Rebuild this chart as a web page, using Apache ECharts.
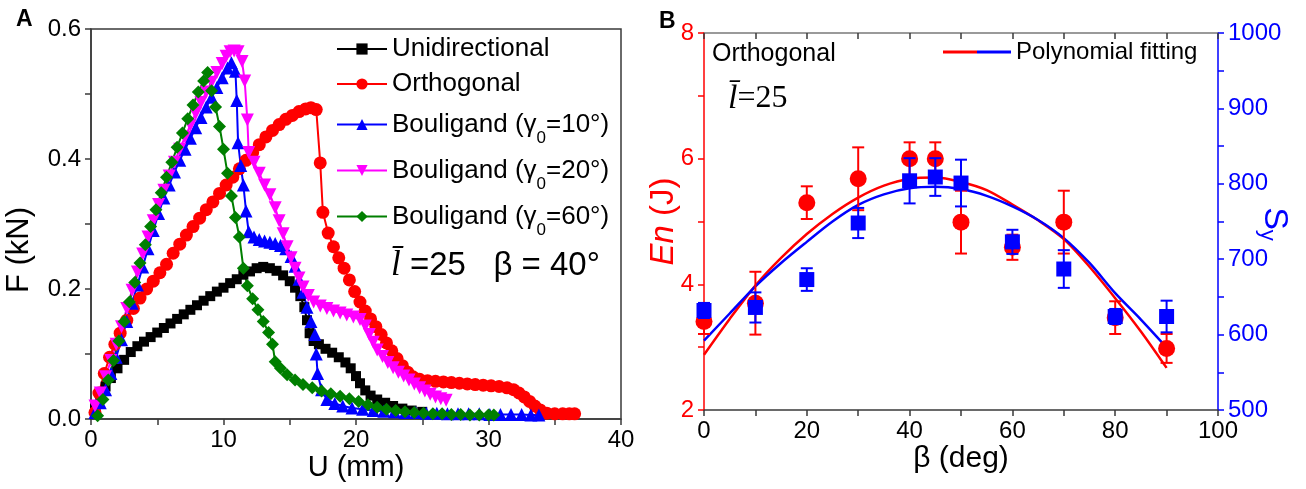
<!DOCTYPE html>
<html>
<head>
<meta charset="utf-8">
<style>
  html, body { margin: 0; padding: 0; background: #fff; }
  #chart { width: 1306px; height: 489px; }
</style>
<script src="https://cdn.jsdelivr.net/npm/echarts@6/dist/echarts.min.js"></script>
</head>
<body>
<div id="chart"></div>
<script>
// ---------- panel A : load F (kN) vs displacement U (mm), pairs [U, F] ----------
const uniData = [[0.3,0.015],[0.7,0.035],[1.1,0.05],[1.5,0.063],[2.0,0.078],[2.5,0.091],[3.0,0.103],[3.5,0.112],[4.0,0.119],[4.5,0.126],[5.0,0.133],[5.5,0.14],[6.0,0.147],[6.5,0.154],[7.0,0.161],[7.5,0.168],[8.0,0.175],[8.5,0.182],[9.0,0.189],[9.5,0.196],[10.0,0.202],[10.5,0.209],[11.0,0.215],[11.5,0.222],[12.0,0.227],[12.5,0.232],[13.0,0.234],[13.5,0.232],[14.0,0.228],[14.5,0.221],[15.0,0.212],[15.4,0.202],[15.8,0.189],[16.1,0.172],[16.3,0.152],[16.5,0.132],[16.8,0.12],[17.2,0.115],[17.7,0.108],[18.2,0.102],[18.7,0.095],[19.2,0.087],[19.6,0.078],[20.0,0.066],[20.3,0.055],[20.7,0.044],[21.1,0.036],[21.6,0.03],[22.2,0.025],[22.8,0.02],[23.5,0.016],[24.2,0.013],[25.0,0.011]];

const orthoData = [[0.3,0.01],[0.6,0.04],[1.0,0.07],[1.4,0.095],[1.8,0.115],[2.2,0.132],[2.7,0.152],[3.2,0.17],[3.7,0.186],[4.2,0.2],[4.7,0.212],[5.2,0.225],[5.7,0.238],[6.2,0.255],[6.7,0.269],[7.2,0.283],[7.7,0.296],[8.2,0.309],[8.7,0.322],[9.2,0.334],[9.7,0.347],[10.2,0.36],[10.7,0.372],[11.2,0.385],[11.7,0.398],[12.2,0.41],[12.7,0.422],[13.2,0.434],[13.7,0.444],[14.2,0.453],[14.7,0.461],[15.2,0.467],[15.7,0.473],[16.2,0.477],[16.6,0.479],[17.0,0.476],[17.3,0.394],[17.5,0.318],[17.9,0.286],[18.3,0.265],[18.7,0.248],[19.1,0.232],[19.5,0.214],[19.9,0.196],[20.3,0.18],[20.7,0.166],[21.1,0.154],[21.5,0.142],[21.9,0.13],[22.3,0.117],[22.7,0.105],[23.1,0.093],[23.5,0.082],[23.9,0.072],[24.3,0.065],[24.8,0.061],[25.4,0.059],[26.0,0.058],[26.6,0.057],[27.2,0.056],[27.8,0.055],[28.4,0.054],[29.0,0.053],[29.6,0.052],[30.2,0.051],[30.8,0.05],[31.4,0.048],[31.9,0.045],[32.3,0.04],[32.7,0.034],[33.1,0.027],[33.5,0.02],[33.9,0.014],[34.4,0.009],[35.0,0.008],[35.6,0.008],[36.1,0.008],[36.5,0.008]];

const boul10Data = [[0.3,0.01],[0.7,0.025],[1.1,0.045],[1.5,0.07],[1.9,0.095],[2.3,0.122],[2.7,0.15],[3.1,0.178],[3.5,0.206],[3.9,0.234],[4.3,0.262],[4.7,0.29],[5.1,0.316],[5.5,0.34],[5.9,0.36],[6.3,0.38],[6.7,0.398],[7.1,0.415],[7.5,0.432],[7.9,0.448],[8.3,0.464],[8.7,0.48],[9.1,0.495],[9.5,0.51],[9.9,0.525],[10.3,0.54],[10.6,0.548],[10.9,0.535],[11.0,0.49],[11.1,0.425],[11.3,0.39],[11.5,0.36],[11.7,0.32],[11.9,0.288],[12.3,0.28],[12.7,0.276],[13.1,0.274],[13.5,0.272],[13.9,0.27],[14.3,0.267],[14.7,0.262],[15.1,0.25],[15.4,0.235],[15.7,0.215],[16.0,0.195],[16.3,0.172],[16.6,0.15],[16.9,0.13],[17.0,0.1],[17.1,0.07],[17.4,0.045],[17.8,0.03],[18.4,0.024],[19.0,0.02],[19.7,0.017],[20.5,0.015],[21.3,0.013],[22.1,0.012],[22.9,0.011],[23.7,0.01],[24.5,0.01],[25.3,0.009],[26.1,0.009],[26.9,0.008],[27.7,0.008],[28.5,0.008],[29.3,0.008],[30.1,0.007],[30.9,0.007],[31.7,0.007],[32.5,0.007],[33.2,0.006],[33.8,0.006]];

const boul20Data = [[0.3,0.02],[0.7,0.04],[1.1,0.065],[1.5,0.09],[1.9,0.115],[2.3,0.142],[2.7,0.17],[3.1,0.198],[3.5,0.226],[3.9,0.254],[4.3,0.28],[4.7,0.305],[5.1,0.33],[5.5,0.352],[5.9,0.374],[6.3,0.395],[6.7,0.415],[7.1,0.434],[7.5,0.452],[7.9,0.47],[8.3,0.487],[8.7,0.503],[9.1,0.518],[9.5,0.533],[9.9,0.547],[10.2,0.558],[10.5,0.565],[10.8,0.566],[11.1,0.565],[11.4,0.55],[11.6,0.52],[11.8,0.46],[11.9,0.41],[12.3,0.395],[12.7,0.378],[13.1,0.36],[13.5,0.345],[13.9,0.325],[14.2,0.305],[14.5,0.285],[14.8,0.265],[15.1,0.248],[15.4,0.232],[15.7,0.217],[16.0,0.203],[16.4,0.19],[16.8,0.18],[17.3,0.174],[17.8,0.17],[18.3,0.166],[18.8,0.163],[19.3,0.16],[19.8,0.157],[20.3,0.153],[20.7,0.143],[21.0,0.13],[21.3,0.118],[21.6,0.106],[22.0,0.096],[22.4,0.087],[22.8,0.079],[23.2,0.072],[23.6,0.066],[24.0,0.06],[24.4,0.054],[24.8,0.048],[25.2,0.043],[25.6,0.038],[26.0,0.034],[26.4,0.031],[26.8,0.029]];

const boul60Data = [[0.5,0.005],[0.9,0.03],[1.3,0.06],[1.7,0.09],[2.1,0.12],[2.5,0.15],[2.9,0.18],[3.3,0.21],[3.7,0.24],[4.1,0.268],[4.5,0.296],[4.9,0.322],[5.3,0.348],[5.7,0.372],[6.1,0.395],[6.5,0.418],[6.9,0.44],[7.3,0.462],[7.7,0.483],[8.1,0.503],[8.5,0.52],[8.8,0.533],[9.1,0.505],[9.4,0.48],[9.7,0.45],[10.0,0.415],[10.3,0.378],[10.6,0.343],[10.9,0.31],[11.2,0.28],[11.5,0.232],[11.8,0.205],[12.2,0.185],[12.6,0.168],[13.0,0.15],[13.4,0.133],[13.7,0.115],[13.9,0.088],[14.3,0.078],[14.8,0.068],[15.4,0.06],[16.0,0.053],[16.7,0.048],[17.4,0.043],[18.1,0.039],[18.8,0.035],[19.5,0.031],[20.2,0.027],[20.9,0.022],[21.6,0.018],[22.3,0.015],[23.0,0.013],[23.7,0.011],[24.4,0.01],[25.1,0.009],[25.8,0.008],[26.5,0.008],[27.2,0.007],[27.9,0.007],[28.6,0.006],[29.3,0.006],[30.0,0.006],[30.4,0.006]];

const uTicks = [0, 10, 20, 30, 40];
const fTicks = [0.0, 0.2, 0.4, 0.6];

// ---------- panel B : En and Sy vs beta ----------
const betaDeg = [0, 10, 20, 30, 40, 45, 50, 60, 70, 80, 90];
const enVals  = [3.41, 3.70, 5.30, 5.68, 6.00, 6.00, 4.99, 4.59, 4.99, 3.47, 2.98];
const enErr   = [0.20, 0.50, 0.26, 0.50, 0.26, 0.26, 0.50, 0.20, 0.50, 0.26, 0.23];
const syVals  = [632, 636, 673, 748, 804, 809, 801, 723, 687, 624, 624];
const syErr   = [10, 20, 15, 20, 30, 25, 31, 16, 25, 10, 21];

// polynomial fitting curves, read every 5 deg
const fitBeta = [0, 5, 10, 15, 20, 25, 30, 35, 40, 45, 50, 55, 60, 65, 70, 75, 80, 85, 90];
const fitEn   = [2.88, 3.45, 3.98, 4.42, 4.80, 5.12, 5.38, 5.57, 5.68, 5.70, 5.63, 5.50, 5.27, 5.02, 4.72, 4.28, 3.78, 3.25, 2.67];
const fitSy   = [592, 628, 664, 695, 723, 750, 772, 786, 794, 796, 793, 784, 770, 752, 728, 695, 655, 620, 583];

const FONT = "'Liberation Sans', Arial, sans-serif";
const SERIF = "'Liberation Serif', 'Times New Roman', serif";
const RED = '#ff0000';
const BLUE = '#0000ff';
const AXIS = '#3a3a3a';

const legendLabelsA = {
  'Unidirectional': 'Unidirectional',
  'Orthogonal': 'Orthogonal',
  'B10': 'Bouligand (γ{s|0}=10°)',
  'B20': 'Bouligand (γ{s|0}=20°)',
  'B60': 'Bouligand (γ{s|0}=60°)'
};

function curve(name, data, color, symbol, size) {
  return {
    name: name,
    type: 'line',
    xAxisIndex: 0,
    yAxisIndex: 0,
    data: data,
    symbol: symbol,
    symbolSize: size,
    showAllSymbol: true,
    color: color,
    lineStyle: { color: color, width: 2 },
    itemStyle: { color: color },
    emphasis: { disabled: true }
  };
}

// vertical error bar with caps, positioned through the axes
function errBar(color) {
  return function (params, api) {
    const x = api.value(0);
    const lo = api.coord([x, api.value(1)]);
    const hi = api.coord([x, api.value(2)]);
    const cap = 6;
    const st = { stroke: color, lineWidth: 2 };
    return {
      type: 'group',
      children: [
        { type: 'line', shape: { x1: lo[0], y1: lo[1], x2: hi[0], y2: hi[1] }, style: st },
        { type: 'line', shape: { x1: lo[0] - cap, y1: lo[1], x2: lo[0] + cap, y2: lo[1] }, style: st },
        { type: 'line', shape: { x1: hi[0] - cap, y1: hi[1], x2: hi[0] + cap, y2: hi[1] }, style: st }
      ]
    };
  };
}

function tickStyle(color) {
  return { color: color, width: 1.5 };
}

const chart = echarts.init(document.getElementById('chart'));

chart.setOption({
  animation: false,
  backgroundColor: '#fff',
  textStyle: { fontFamily: FONT },
  title: [
    { text: 'A', left: 11, top: 3, textStyle: { fontSize: 23, fontWeight: 'bold', color: '#000', fontFamily: FONT } },
    { text: 'B', left: 654, top: 5, textStyle: { fontSize: 23, fontWeight: 'bold', color: '#000', fontFamily: FONT } },
    {
      text: '{i|l\u0304} =25   β = 40°', left: 386, top: 243,
      textStyle: { fontSize: 33, fontWeight: 'normal', color: '#000', fontFamily: FONT,
        rich: { i: { fontSize: 35, fontStyle: 'italic', fontFamily: SERIF, color: '#000' } } }
    },
    { text: 'Orthogonal', left: 707, top: 37, textStyle: { fontSize: 25, fontWeight: 'normal', color: '#000', fontFamily: FONT } },
    {
      text: '{i|l\u0304}=25', left: 723, top: 77,
      textStyle: { fontSize: 32, fontWeight: 'normal', color: '#000', fontFamily: SERIF,
        rich: { i: { fontSize: 34, fontStyle: 'italic', fontFamily: SERIF, color: '#000' } } }
    }
  ],
  // right-axis title, turned to read top to bottom as in the figure
  graphic: [
    {
      type: 'text', x: 1274, y: 224, rotation: -Math.PI / 2,
      style: {
        text: 'S{s|y}', fill: BLUE, font: "34px 'Liberation Sans', Arial, sans-serif",
        align: 'center', verticalAlign: 'middle',
        rich: { s: { fontSize: 22, fill: BLUE, fontFamily: FONT, padding: [14, 0, 0, 0] } }
      }
    }
  ],
  legend: [
    {
      data: ['Unidirectional', 'Orthogonal', 'B10', 'B20', 'B60'],
      orient: 'vertical',
      left: 336,
      top: 32,
      padding: 0,
      itemWidth: 50,
      itemHeight: 14,
      itemGap: 1,
      selectedMode: false,
      formatter: name => legendLabelsA[name],
      textStyle: {
        fontSize: 26, lineHeight: 34, color: '#000', fontFamily: FONT,
        rich: { s: { fontSize: 17, lineHeight: 17, color: '#000', fontFamily: FONT, padding: [28, 0, 0, 0] } }
      }
    },
    {
      data: ['fitEn', 'fitSy'],
      orient: 'horizontal',
      left: 943,
      top: 40,
      padding: 0,
      icon: 'rect',
      itemWidth: 34,
      itemHeight: 3,
      itemGap: 0,
      selectedMode: false,
      formatter: name => (name === 'fitSy' ? 'Polynomial fitting' : ''),
      textStyle: { fontSize: 24, color: '#000', fontFamily: FONT }
    }
  ],
  grid: [
    { left: 91, top: 29, width: 530, height: 390, show: true, borderColor: AXIS, borderWidth: 1.5, backgroundColor: 'transparent', containLabel: false, outerBoundsMode: 'none' },
    { left: 704, top: 33, width: 514, height: 377, show: false, containLabel: false, outerBoundsMode: 'none' }
  ],
  xAxis: [
    {
      gridIndex: 0, type: 'value', min: uTicks[0], max: uTicks[uTicks.length - 1], interval: 10,
      name: 'U (mm)', nameLocation: 'middle', nameGap: 34, nameMoveOverlap: false,
      nameTextStyle: { fontSize: 29, color: '#000', fontFamily: FONT },
      axisLine: { show: true, onZero: false, lineStyle: tickStyle(AXIS) },
      axisTick: { show: true, inside: false, length: 6, lineStyle: tickStyle(AXIS) },
      minorTick: { show: true, splitNumber: 2, length: 6, lineStyle: tickStyle(AXIS) },
      axisLabel: { fontSize: 24, color: '#000', margin: 9, fontFamily: FONT },
      splitLine: { show: false }
    },
    {
      gridIndex: 1, type: 'value', min: 0, max: 100, interval: 20,
      name: 'β (deg)', nameLocation: 'middle', nameGap: 34, nameMoveOverlap: false,
      nameTextStyle: { fontSize: 30, color: '#000', fontFamily: FONT },
      axisLine: { show: true, onZero: false, lineStyle: tickStyle(AXIS) },
      axisTick: { show: true, inside: false, length: 6, lineStyle: tickStyle(AXIS) },
      minorTick: { show: true, splitNumber: 2, length: 6, lineStyle: tickStyle(AXIS) },
      axisLabel: { fontSize: 24, color: '#000', margin: 9, fontFamily: FONT },
      splitLine: { show: false }
    },
    {
      gridIndex: 1, type: 'value', position: 'top', min: 0, max: 100, interval: 10,
      axisLine: { show: true, onZero: false, lineStyle: { color: '#7a7a7a', width: 1.5 } },
      axisTick: { show: true, inside: true, length: 6, lineStyle: tickStyle(AXIS) },
      axisLabel: { show: false },
      splitLine: { show: false }
    }
  ],
  yAxis: [
    {
      gridIndex: 0, type: 'value', min: fTicks[0], max: fTicks[fTicks.length - 1], interval: 0.2,
      name: 'F (kN)', nameLocation: 'middle', nameGap: 56, nameRotate: 90, nameMoveOverlap: false,
      nameTextStyle: { fontSize: 31, color: '#000', fontFamily: FONT, padding: [0, 52, 0, 0] },
      axisLine: { show: true, onZero: false, lineStyle: tickStyle(AXIS) },
      axisTick: { show: true, inside: false, length: 6, lineStyle: tickStyle(AXIS) },
      minorTick: { show: true, splitNumber: 2, length: 6, lineStyle: tickStyle(AXIS) },
      axisLabel: { fontSize: 24, color: '#000', margin: 10, fontFamily: FONT, formatter: v => v.toFixed(1) },
      splitLine: { show: false }
    },
    {
      gridIndex: 1, type: 'value', position: 'left', min: 2, max: 8, interval: 2,
      name: '{i|En} (J)', nameLocation: 'middle', nameGap: 24, nameRotate: 90, nameMoveOverlap: false,
      nameTextStyle: { fontSize: 33, color: RED, fontFamily: FONT,
        rich: { i: { fontSize: 33, fontStyle: 'italic', color: RED, fontFamily: FONT } } },
      axisLine: { show: true, onZero: false, lineStyle: tickStyle(RED) },
      axisTick: { show: true, inside: false, length: 6, lineStyle: tickStyle(RED) },
      minorTick: { show: true, splitNumber: 2, length: 6, lineStyle: tickStyle(RED) },
      axisLabel: { fontSize: 24, color: RED, margin: 10, fontFamily: FONT },
      splitLine: { show: false }
    },
    {
      gridIndex: 1, type: 'value', position: 'right', min: 500, max: 1000, interval: 100,
      axisLine: { show: true, onZero: false, lineStyle: tickStyle(BLUE) },
      axisTick: { show: true, inside: false, length: 6, lineStyle: tickStyle(BLUE) },
      minorTick: { show: true, splitNumber: 2, length: 6, lineStyle: tickStyle(BLUE) },
      axisLabel: { fontSize: 24, color: BLUE, margin: 10, fontFamily: FONT, formatter: v => String(v) },
      splitLine: { show: false }
    }
  ],
  series: [
    curve('Unidirectional', uniData, '#000000', 'rect', 10),
    curve('Orthogonal', orthoData, RED, 'circle', 13),
    curve('B10', boul10Data, BLUE, 'triangle', 13),
    curve('B20', boul20Data, '#ff00ff', 'path://M0,0 L10,0 L5,9 Z', 13),
    curve('B60', boul60Data, '#007f00', 'diamond', 13),
    {
      name: 'fitEn', type: 'line', xAxisIndex: 1, yAxisIndex: 1,
      data: fitBeta.map((b, i) => [b, fitEn[i]]),
      smooth: 0.3, symbol: 'none', color: RED,
      lineStyle: { color: RED, width: 2.5 }, z: 2
    },
    {
      name: 'fitSy', type: 'line', xAxisIndex: 1, yAxisIndex: 2,
      data: fitBeta.map((b, i) => [b, fitSy[i]]),
      smooth: 0.3, symbol: 'none', color: BLUE,
      lineStyle: { color: BLUE, width: 2.5 }, z: 2
    },
    {
      name: 'enErr', type: 'custom', xAxisIndex: 1, yAxisIndex: 1,
      data: betaDeg.map((b, i) => [b, enVals[i] - enErr[i], enVals[i] + enErr[i]]),
      encode: { x: 0, y: [1, 2] },
      renderItem: errBar(RED), clip: false, z: 3
    },
    {
      name: 'En', type: 'scatter', xAxisIndex: 1, yAxisIndex: 1,
      data: betaDeg.map((b, i) => [b, enVals[i]]),
      symbol: 'circle', symbolSize: 17, itemStyle: { color: RED, opacity: 1 }, z: 4
    },
    {
      name: 'syErr', type: 'custom', xAxisIndex: 1, yAxisIndex: 2,
      data: betaDeg.map((b, i) => [b, syVals[i] - syErr[i], syVals[i] + syErr[i]]),
      encode: { x: 0, y: [1, 2] },
      renderItem: errBar(BLUE), clip: false, z: 5
    },
    {
      name: 'Sy', type: 'scatter', xAxisIndex: 1, yAxisIndex: 2,
      data: betaDeg.map((b, i) => [b, syVals[i]]),
      symbol: 'rect', symbolSize: 15, itemStyle: { color: BLUE, opacity: 1 }, z: 6
    }
  ]
});
</script>
</body>
</html>
